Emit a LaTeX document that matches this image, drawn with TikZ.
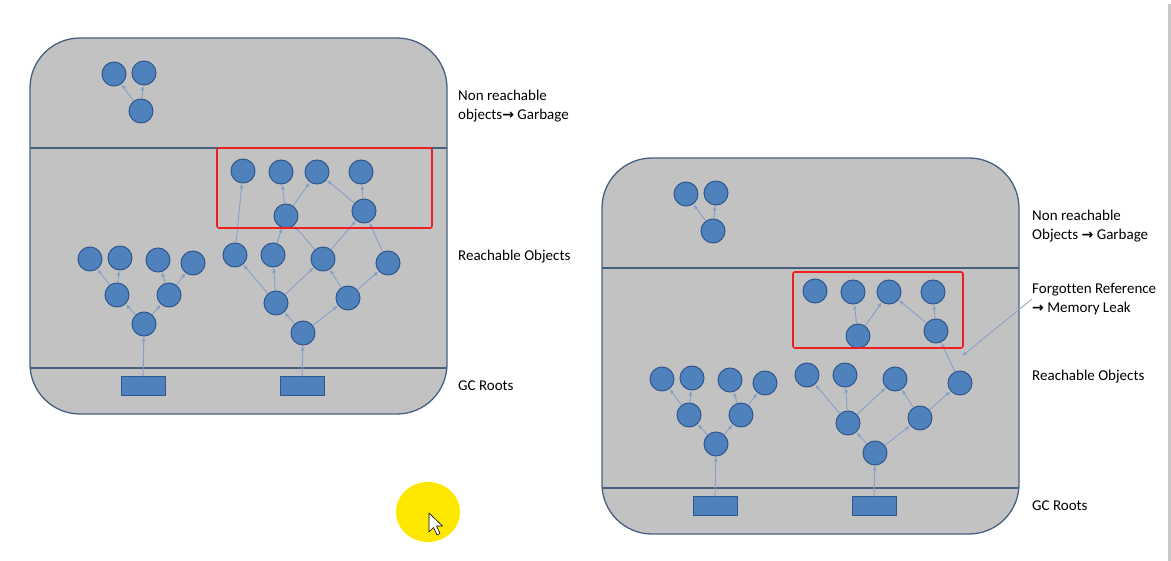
\documentclass[tikz,border=0pt]{standalone}
\usepackage{fontspec}
\setmainfont{Carlito}[Ligatures=NoCommon]
\newfontfamily\arrowfont{DejaVu Sans}
\newcommand{\gcto}{{\arrowfont\bfseries\fontsize{14}{18.5}\selectfont→}}
\usetikzlibrary{arrows.meta}
\begin{document}
\begin{tikzpicture}[x=1pt,y=-1pt,
    obj/.style={shape=circle,draw=gc_objline,fill=gc_obj,line width=1pt,minimum size=24pt,inner sep=0pt},
    rootbox/.style={shape=rectangle,draw=gc_objline,fill=gc_obj,line width=1pt,minimum width=44pt,minimum height=19pt,inner sep=0pt},
    ref/.style={draw=gc_ref,line width=0.9pt,-{Latex[length=5pt,width=4pt]}},
    lbl/.style={anchor=west,align=left,inner sep=0pt,font=\fontsize{15}{18.5}\selectfont}]
    \definecolor{gc_bg}{RGB}{194,194,194}
    \definecolor{gc_line}{RGB}{72,96,128}
    \definecolor{gc_obj}{RGB}{79,129,189}
    \definecolor{gc_objline}{RGB}{48,88,140}
    \definecolor{gc_ref}{RGB}{135,160,200}
    \definecolor{gc_red}{RGB}{240,30,30}
    \definecolor{gc_cursor}{RGB}{255,232,0}
    \useasboundingbox (0,0) rectangle (1171,561);
    % both heaps, the right one moved down and to the right
    \foreach \p/\dx/\dy in {L/0/0,R/572/120} {
    \begin{scope}[shift={(\dx,\dy)}]
    \draw[gc_line,line width=1.3pt,fill=gc_bg,rounded corners=50pt] (30,38) rectangle (447,414);
    \draw[gc_line,line width=1.8pt] (30,148) -- (447,148);
    \draw[gc_line,line width=1.8pt] (30,368) -- (447,368);
    % garbage
    \node[obj] (\p g1) at (114,74) {};
    \node[obj] (\p g2) at (144,73) {};
    \node[obj] (\p g3) at (141,111) {};
    % first root
    \node[rootbox] (\p r1) at (143,386) {};
    \node[obj] (\p k)  at (144,324) {};
    \node[obj] (\p k1) at (117,295) {};
    \node[obj] (\p k2) at (169,295) {};
    \node[obj] (\p l1) at (90,259) {};
    \node[obj] (\p l2) at (120,258) {};
    \node[obj] (\p l3) at (158,260) {};
    \node[obj] (\p l4) at (193,263) {};
    % second root
    \node[rootbox] (\p r2) at (302,386) {};
    \node[obj] (\p c)  at (303,333) {};
    \node[obj] (\p b1) at (276,303) {};
    \node[obj] (\p b2) at (348,298) {};
    \node[obj] (\p a1) at (235,255) {};
    \node[obj] (\p a2) at (273,255) {};
    \node[obj] (\p a3) at (323,259) {};
    \node[obj] (\p a4) at (388,263) {};
    \node[obj] (\p m1) at (286,216) {};
    \node[obj] (\p m2) at (364,211) {};
    \node[obj] (\p t1) at (243,171) {};
    \node[obj] (\p t2) at (281,172) {};
    \node[obj] (\p t3) at (317,172) {};
    \node[obj] (\p t4) at (361,172) {};
    % references
    \draw[ref] (\p g3) -- (\p g1);
    \draw[ref] (\p g3) -- (\p g2);
    \draw[ref] (\p r1) -- (\p k);
    \draw[ref] (\p k) -- (\p k1);
    \draw[ref] (\p k) -- (\p k2);
    \draw[ref] (\p k1) -- (\p l1);
    \draw[ref] (\p k1) -- (\p l2);
    \draw[ref] (\p k2) -- (\p l3);
    \draw[ref] (\p k2) -- (\p l4);
    \draw[ref] (\p r2) -- (\p c);
    \draw[ref] (\p c) -- (\p b1);
    \draw[ref] (\p c) -- (\p b2);
    \draw[ref] (\p b1) -- (\p a1);
    \draw[ref] (\p b1) -- (\p a2);
    \draw[ref] (\p b1) -- (\p a3);
    \draw[ref] (\p b2) -- (\p a3);
    \draw[ref] (\p b2) -- (\p a4);
    \draw[ref] (\p a4) -- (\p m2);
    \draw[ref] (\p m1) -- (\p t2);
    \draw[ref] (\p m1) -- (\p t3);
    \draw[ref] (\p m2) -- (\p t3);
    \draw[ref] (\p m2) -- (\p t4);
    \end{scope}
    }
    % left heap: still reachable
    \draw[ref] (La1) -- (Lt1);
    \draw[ref] (La2) -- (Lm1);
    \draw[ref] (La3) -- (Lm1);
    \draw[ref] (La3) -- (Lm2);
    \draw[gc_red,line width=1.6pt,rounded corners=2pt] (217,148) rectangle (432,228);
    % right heap: forgotten
    \draw[gc_red,line width=1.6pt,rounded corners=2pt] (793,272) rectangle (963,348);
    % labels
    \node[lbl] (Lgarbage) at (458,106) {Non reachable\\objects\gcto\ Garbage};
    \node[lbl] (Lreach) at (458,257) {Reachable Objects};
    \node[lbl] (Lroots) at (458,386) {GC Roots};
    \node[lbl] (Rgarbage) at (1032,226) {Non reachable\\Objects \gcto\ Garbage};
    \node[lbl] (Rleak) at (1032,299) {Forgotten Reference\\\gcto\ Memory Leak};
    \node[lbl] (Rreach) at (1032,377) {Reachable Objects};
    \node[lbl] (Rroots) at (1032,506) {GC Roots};
    \coordinate (leak) at (962,356);
    \draw[ref,line width=0.8pt] (Rleak.west) -- (leak);
    % pointer
    \fill[gc_cursor] (428,512) ellipse (32 and 30);
    \draw[black,fill=white,line width=0.6pt,line join=round]
        (429,513) -- (429,532) -- (433.5,527.5) -- (437,535) -- (440,533.5) -- (436.5,526) -- (442.5,526) -- cycle;
    \fill[black!22] (1168,4) rectangle (1171,561);
\end{tikzpicture}
\end{document}
